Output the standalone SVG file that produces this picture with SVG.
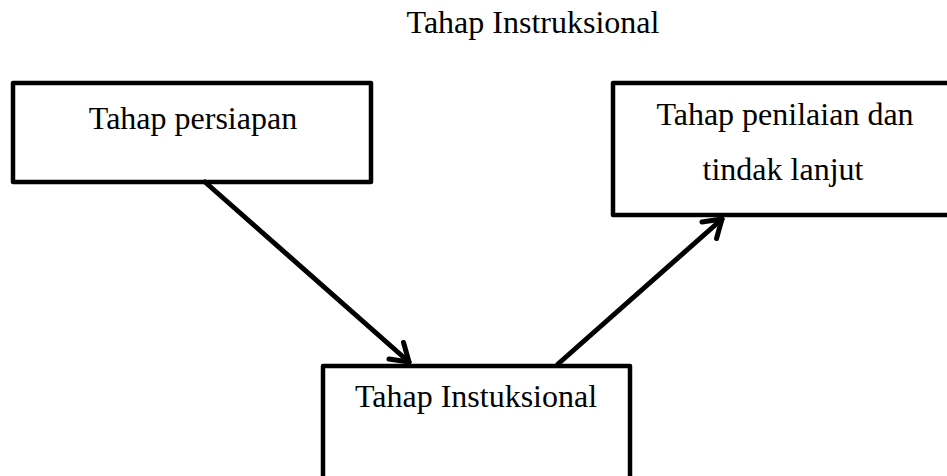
<svg xmlns="http://www.w3.org/2000/svg" width="947" height="476" viewBox="0 0 947 476">
  <style>
    .box { fill: #ffffff; stroke: #000000; stroke-width: 4.5; stroke-linejoin: round; }
    .lbl { font-family: "Liberation Serif", "Times New Roman", serif; font-size: 32px; fill: #000000; text-anchor: middle; }
    .conn { stroke: #000000; stroke-width: 5; stroke-linecap: round; fill: none; marker-end: url(#arrow); }
  </style>
  <defs>
    <marker id="arrow" markerUnits="userSpaceOnUse" markerWidth="40" markerHeight="40" viewBox="-25 -20 40 40" refX="0" refY="0" orient="auto" overflow="visible">
      <path d="M-17,-11 L0,0 L-17,11" fill="none" stroke="#000000" stroke-width="5" stroke-linecap="round" stroke-linejoin="round"/>
    </marker>
  </defs>
  <rect width="947" height="476" fill="#ffffff"/>
  <text class="lbl" x="533" y="33">Tahap Instruksional</text>
  <g id="node-persiapan">
    <rect class="box" x="13" y="83" width="358" height="99"/>
    <text class="lbl" x="193" y="129">Tahap persiapan</text>
  </g>
  <g id="node-penilaian">
    <rect class="box" x="613" y="83" width="345" height="132"/>
    <text class="lbl" x="785" y="125">Tahap penilaian dan</text>
    <text class="lbl" x="783" y="180">tindak lanjut</text>
  </g>
  <g id="node-instruksional">
    <rect class="box" x="323" y="366" width="307" height="130"/>
    <text class="lbl" x="476" y="407">Tahap Instuksional</text>
  </g>
  <g id="connectors">
    <line class="conn" x1="205" y1="182" x2="409" y2="362"/>
    <line class="conn" x1="558" y1="364" x2="722" y2="219"/>
  </g>
</svg>
